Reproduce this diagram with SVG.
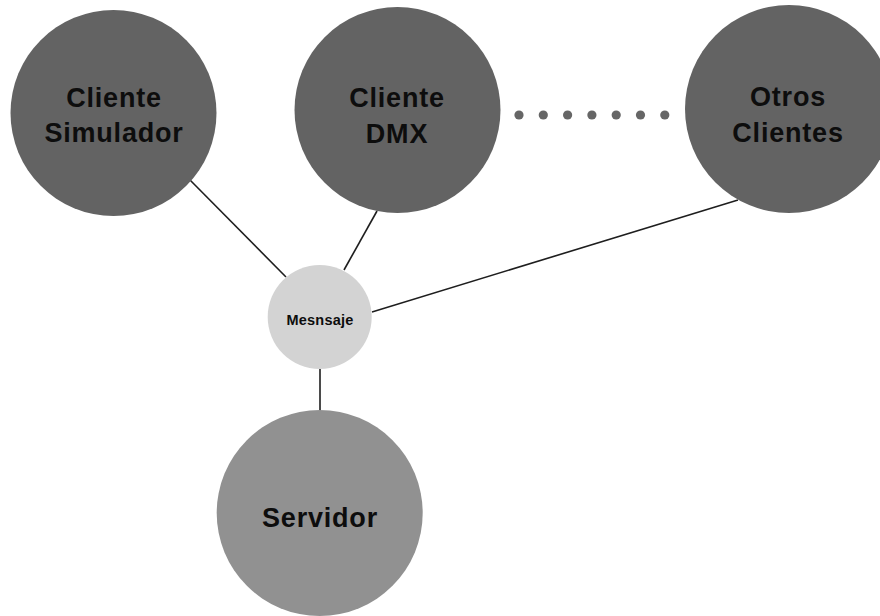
<svg xmlns="http://www.w3.org/2000/svg" width="880" height="616" viewBox="0 0 880 616">
  <style>
    .client { fill: #636363; }
    .hub { fill: #d3d3d3; }
    .server { fill: #919191; }
    .label { font-family: "Liberation Sans", Arial, Helvetica, sans-serif; font-weight: bold; fill: #0d0d0d; text-anchor: middle; }
    .big { font-size: 27px; letter-spacing: 0.8px; }
    .small { font-size: 14.5px; letter-spacing: 0.2px; }
    .link { stroke: #1e1e1e; stroke-width: 1.6; fill: none; }
    .dot { fill: #666666; }
  </style>
  <rect width="880" height="616" fill="#ffffff"/>

  <!-- connectors -->
  <g id="connectors">
    <line class="link" x1="190" y1="180" x2="286" y2="277"/>
    <line class="link" x1="377" y1="211" x2="344" y2="270"/>
    <line class="link" x1="738" y1="200" x2="372" y2="312"/>
    <line class="link" x1="320" y1="369" x2="320" y2="411"/>
  </g>

  <g id="cliente-simulador">
    <circle class="client" cx="113.5" cy="113" r="103"/>
    <text class="label big" x="114" y="106.5">Cliente</text>
    <text class="label big" x="114" y="142">Simulador</text>
  </g>

  <g id="cliente-dmx">
    <circle class="client" cx="397.5" cy="110" r="103"/>
    <text class="label big" x="397" y="106.5">Cliente</text>
    <text class="label big" x="397" y="142.5">DMX</text>
  </g>

  <!-- ellipsis between clients -->
  <g id="ellipsis">
    <circle class="dot" cx="519" cy="115" r="4.6"/>
    <circle class="dot" cx="543.3" cy="115" r="4.6"/>
    <circle class="dot" cx="567.6" cy="115" r="4.6"/>
    <circle class="dot" cx="591.9" cy="115" r="4.6"/>
    <circle class="dot" cx="616.2" cy="115" r="4.6"/>
    <circle class="dot" cx="640.5" cy="115" r="4.6"/>
    <circle class="dot" cx="664.8" cy="115" r="4.6"/>
  </g>

  <g id="otros-clientes">
    <circle class="client" cx="789" cy="109" r="104"/>
    <text class="label big" x="788" y="106">Otros</text>
    <text class="label big" x="788" y="141.5">Clientes</text>
  </g>

  <g id="mensaje">
    <circle class="hub" cx="319.7" cy="317" r="52"/>
    <text class="label small" x="320" y="325">Mesnsaje</text>
  </g>

  <g id="servidor">
    <circle class="server" cx="319.7" cy="513" r="103"/>
    <text class="label big" x="320" y="527">Servidor</text>
  </g>
</svg>
